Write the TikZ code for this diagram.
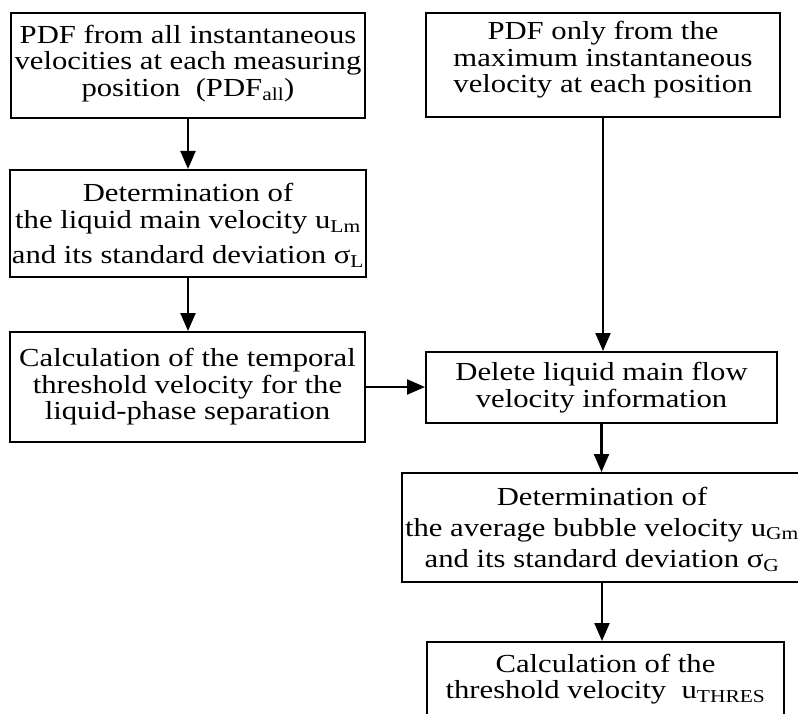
\documentclass[tikz,border=0pt]{standalone}
\usepackage{fontspec}
\setmainfont[FakeStretch=1.18]{Liberation Serif}
\usetikzlibrary{arrows.meta}
\begin{document}
\begin{tikzpicture}[x=1pt,y=-1pt,
  box/.style={draw, line width=2pt, rectangle, inner sep=0pt},
  txt/.style={inner sep=0pt, align=center, font=\fontsize{26}{26.5}\selectfont},
  arr/.style={line width=2.2pt, -{Triangle[width=15pt,length=18pt]}}]
\useasboundingbox (0,0) rectangle (798,714);
\node[box, minimum width=354pt, minimum height=105pt] (a) at (188,65.5) {};
\node[txt] (at) at ([yshift=2pt]a.center) {PDF from all instantaneous\\velocities at each measuring\\position~~(PDF\textsubscript{all})};
\node[box, minimum width=354pt, minimum height=104pt] (b) at (603,65) {};
\node[txt] (bt) at ([yshift=5pt]b.center) {PDF only from the\\maximum instantaneous\\velocity at each position};
\node[box, minimum width=356pt, minimum height=107pt] (c) at (188,223.5) {};
\node[txt] (ct) at ([yshift=-2pt]c.center) {Determination of\\the liquid main velocity u\textsubscript{Lm}\\[9pt]and its standard deviation σ\textsubscript{L}};
\node[box, minimum width=355pt, minimum height=110pt] (d) at (187.5,387) {};
\node[txt] (dt) at (d.center) {Calculation of the temporal\\threshold velocity for the\\liquid-phase separation};
\node[box, minimum width=351pt, minimum height=71pt] (e) at (601.5,387.5) {};
\node[txt] (et) at (e.center) {Delete liquid main flow\\velocity information};
\node[box, minimum width=400pt, minimum height=109pt] (f) at (602,527.5) {};
\node[txt] (ft) at ([yshift=-2pt]f.center) {Determination of\\[4pt]the average bubble velocity u\textsubscript{Gm}\\[5pt]and its standard deviation σ\textsubscript{G}};
\node[box, minimum width=357pt, minimum height=78pt] (g) at (605.5,681) {};
\node[txt] (gt) at ([yshift=2pt]g.center) {Calculation of the\\threshold velocity~~u\textsubscript{THRES}};
\draw[arr] (a.south) -- (a.south |- c.north);
\draw[arr] (c.south) -- (c.south |- d.north);
\draw[arr] (b.south) -- (b.south |- e.north);
\draw[arr] (d.east) -- (d.east -| e.west);
\draw[arr] (e.south) -- (e.south |- f.north);
\draw[arr] (f.south) -- (f.south |- g.north);
\end{tikzpicture}
\end{document}
